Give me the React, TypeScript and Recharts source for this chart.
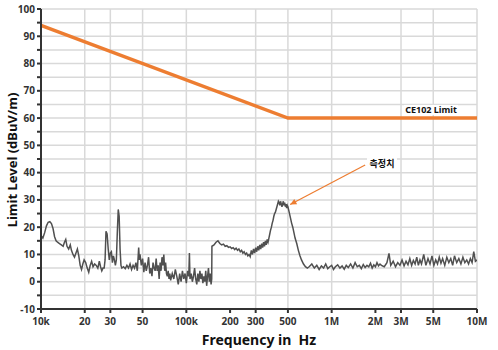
import { LineChart, Line, XAxis, YAxis, CartesianGrid, ReferenceLine, ReferenceDot } from 'recharts';

// x 값은 kHz 단위 (log scale)
const xTicks = [10, 20, 30, 50, 100, 200, 300, 500, 1000, 2000, 3000, 5000, 10000];
const xTickLabels = ['10k', '20', '30', '50', '100k', '200', '300', '500', '1M', '2M', '3M', '5M', '10M'];
const yTicks = [-10, -5, 0, 5, 10, 15, 20, 25, 30, 35, 40, 45, 50, 55, 60, 65, 70, 75, 80, 85, 90, 95, 100];

const limitFreqKHz = [10, 500, 10000];
const limitLevel = [94, 60, 60];

const measFreqKHz = [
  10, 10.3, 10.6, 10.9, 11.2, 11.5, 11.8, 12.1, 12.4, 12.7, 13.0, 13.4, 13.8, 14.2, 14.5, 14.8, 15.1, 15.5, 15.9, 16.2,
  16.6, 17.0, 17.4, 17.8, 18.2, 18.6, 19.0, 19.4, 19.8, 20.3, 20.8, 21.3, 21.8, 22.3, 22.8, 23.4, 24.0, 24.6, 25.2, 25.7,
  26.2, 26.7, 27.2, 27.6, 28.0, 28.5, 29.0, 29.5, 30.0, 30.5, 31.0, 31.5, 32.0, 32.5, 33.0, 33.5, 34.0, 34.5, 35.0, 35.5,
  36, 37, 38, 39, 40, 41, 42, 43, 44, 45, 46, 47, 47.5, 48, 49, 50, 51, 52, 53, 54,
  55, 56, 57, 58, 59, 60, 61, 62, 63, 64, 65, 66, 67, 68, 69, 70, 71, 72, 73, 74,
  75, 76, 77, 78, 80, 82, 84, 86, 88, 90, 92, 94, 96, 98, 100, 102, 104, 105, 106, 108,
  110, 112, 114, 116, 118, 120, 122, 124, 126, 128, 130, 132, 134, 136, 138, 140, 142, 144, 146, 148,
  149.5, 150, 155, 160, 165, 170, 175, 180, 185, 190, 195, 200, 205, 210, 215, 220, 225, 230, 235, 240,
  245, 250, 255, 260, 265, 270, 275, 280, 285, 290, 295, 300, 305, 310, 315, 320, 325, 330, 335, 340,
  345, 350, 355, 360, 365, 370, 375, 380, 385, 390, 395, 400, 405, 410, 415, 420, 425, 430, 435, 440,
  445, 450, 455, 460, 465, 470, 475, 480, 485, 490, 495, 500, 510, 520, 530, 540, 550, 560, 575, 590,
  605, 620, 640, 660, 680, 700, 730, 760, 790, 820, 850, 880, 910, 940, 970, 1000, 1030, 1060, 1100, 1140,
  1180, 1220, 1260, 1300, 1350, 1400, 1450, 1500, 1550, 1600, 1650, 1700, 1750, 1800, 1850, 1900, 1950, 2000, 2050, 2100,
  2150, 2200, 2300, 2400, 2480, 2550, 2650, 2750, 2850, 2950, 3050, 3150, 3250, 3350, 3450, 3550, 3650, 3750, 3850, 3950,
  4050, 4150, 4300, 4450, 4600, 4750, 4900, 5050, 5200, 5350, 5500, 5650, 5800, 6000, 6200, 6400, 6600, 6800, 7000, 7250,
  7500, 7750, 8000, 8250, 8500, 8750, 9000, 9250, 9500, 9750, 10000,
];

const measLevel = [
  17, 16, 18, 20.5, 21.8, 22, 21.3, 19.5, 16.5, 15, 14.5, 14, 13.5, 13, 14.5, 15.5, 13, 12, 13.5, 11.5,
  10, 9, 10.5, 12, 9.5, 6, 4.5, 6.5, 8, 7, 5, 3.5, 6, 7.5, 5.5, 6.5, 6, 5, 7.5, 5.5,
  4, 5, 5, 8, 18.5, 17.5, 12, 8, 10.5, 11, 7, 9.5, 8, 6, 8, 18, 26.5, 24, 12, 6,
  5, 5.5, 4.8, 6, 5, 6.5, 4.5, 6, 5, 7, 4, 12.5, 8, 10, 6, 8.5, 3.5, 7, 4, 6,
  9, 3, 5, 2, 7, 5, 4, 8.5, 4, 6, 1, 7, 4, 9, 6, 10, 4, 7, 3, 2,
  4, 1, 3, 0.5, 3, 1, 4.5, 2, -1, 3, 0, 4, 1, 3, -0.5, 4, 2, 10.5, 1, 3,
  0, 2, 5, 1, -1, 3, 0, 4, 1, 3, -0.5, 2, 0, 4, -1.5, 2, 5, 0, 3, -1,
  1, 13, 13.5, 14.5, 15, 14, 13.5, 13.8, 13, 13.2, 12.6, 12.8, 12.2, 12.5, 11.8, 12.3, 11.5, 12, 11, 11.5,
  10.5, 11, 10, 10.5, 9.5, 10, 9.2, 11.5, 10, 12, 10.5, 12.5, 11, 13, 11.5, 13.5, 12, 14, 12.5, 14.5,
  13, 15, 13.5, 15.5, 14.5, 16, 17.5, 19, 20, 21.5, 22.5, 24, 25, 25.5, 26.5, 27.5, 28.5, 29.5, 29, 28,
  29.5, 28.5, 27.5, 28.5, 29.5, 28, 29, 27.5, 28.5, 27, 28, 27.5, 25.5, 23.5, 21.5, 20, 18, 16, 14, 11.5,
  9.5, 8, 6.5, 5.5, 5, 5.5, 6.5, 5, 6, 4.5, 5.8, 5, 6.5, 4.8, 5.5, 6, 4.5, 5.5, 6.2, 5,
  5.8, 4.6, 6, 5.2, 6.5, 5, 7, 5.5, 6, 4.8, 6.3, 5.2, 6, 5.5, 6.8, 5, 6.2, 5.5, 7, 5.8,
  6.5, 6, 5.5, 7, 10.4, 6, 7.5, 5.5, 7, 6, 8, 5.8, 7.5, 6.2, 8.5, 6, 7.8, 6.5, 9, 6,
  8, 6.5, 10, 6, 8.5, 6.5, 9.5, 6, 8, 6.5, 9, 6.8, 8.5, 6, 9, 7, 8.5, 6, 9.5, 7,
  8.5, 6.5, 9, 7, 8, 6.5, 8.5, 7, 11, 7.5, 8,
];

const limitData = limitFreqKHz.map((f, i) => ({ f, v: limitLevel[i] }));
const measData = measFreqKHz.map((f, i) => ({ f, v: measLevel[i] }));

const ORANGE = '#ED7D31';
const FONT = '"Noto Sans", "Noto Sans CJK KR", sans-serif';

function LabelBox({ cx, cy, text, w }: any) {
  return (
    <g>
      <rect x={cx - w / 2} y={cy - 5} width={w} height={10} fill="#fff" />
      <text x={cx} y={cy} textAnchor="middle" dominantBaseline="central" fontSize={9} fontWeight="bold" fill="#111" fontFamily={FONT}>
        {text}
      </text>
    </g>
  );
}

function Arrow({ x1, y1, x2, y2 }: any) {
  const ang = Math.atan2(y2 - y1, x2 - x1);
  const len = 7;
  const spread = 0.45;
  const p1x = x2 - len * Math.cos(ang - spread);
  const p1y = y2 - len * Math.sin(ang - spread);
  const p2x = x2 - len * Math.cos(ang + spread);
  const p2y = y2 - len * Math.sin(ang + spread);
  return (
    <g>
      <line x1={x1} y1={y1} x2={x2} y2={y2} stroke={ORANGE} strokeWidth={1.2} />
      <polygon points={`${x2},${y2} ${p1x},${p1y} ${p2x},${p2y}`} fill={ORANGE} />
    </g>
  );
}

export default function App() {
  return (
    <div style={{ position: 'absolute', left: 0, top: 0, width: 498, height: 350, background: '#fff', fontFamily: FONT }}>
      <LineChart width={498} height={350} margin={{ top: 9, right: 21, bottom: 16, left: 0 }}>
        <CartesianGrid stroke="#d9d9d9" strokeWidth={1.5} />
        <XAxis
          type="number"
          dataKey="f"
          scale="log"
          domain={[10, 10000]}
          allowDataOverflow
          ticks={xTicks}
          tickFormatter={(v) => xTickLabels[xTicks.indexOf(v)] ?? ''}
          height={25}
          tickSize={4}
          tickMargin={5}
          stroke="#333"
          strokeWidth={2}
          tick={{ fontSize: 10, fill: '#333', fontWeight: 'bold', fontFamily: FONT }}
        />
        <YAxis
          type="number"
          domain={[-10, 100]}
          ticks={yTicks}
          interval={0}
          tickFormatter={(v) => (v % 10 === 0 ? String(v) : '')}
          width={41}
          tickSize={4}
          tickMargin={2}
          stroke="#333"
          strokeWidth={2}
          tick={{ fontSize: 10, fill: '#333', fontWeight: 'bold', fontFamily: FONT }}
        />
        <Line
          data={measData}
          dataKey="v"
          type="linear"
          stroke="#505050"
          strokeWidth={1.5}
          dot={false}
          isAnimationActive={false}
        />
        <Line
          data={limitData}
          dataKey="v"
          type="linear"
          stroke={ORANGE}
          strokeWidth={3.5}
          dot={false}
          isAnimationActive={false}
        />
        <ReferenceLine
          segment={[{ x: 1700, y: 42.8 }, { x: 518, y: 28.3 }]}
          shape={(p: any) => <Arrow {...p} />}
        />
        <ReferenceDot x={4830} y={63} r={0} shape={(p: any) => <LabelBox {...p} text="CE102  Limit" w={54} />} />
        <ReferenceDot x={2220} y={43.5} r={0} shape={(p: any) => <LabelBox {...p} text="측정치" w={30} />} />
      </LineChart>
      <div
        style={{
          position: 'absolute',
          left: 12 - 100,
          top: 160 - 10,
          width: 200,
          height: 20,
          lineHeight: '20px',
          textAlign: 'center',
          transform: 'rotate(-90deg)',
          fontSize: 13,
          fontWeight: 'bold',
          color: '#111',
        }}
      >
        Limit Level (dBuV/m)
      </div>
      <div
        style={{
          position: 'absolute',
          left: 159,
          top: 330,
          width: 200,
          height: 20,
          lineHeight: '20px',
          textAlign: 'center',
          fontSize: 14,
          fontWeight: 'bold',
          color: '#111',
          whiteSpace: 'pre',
        }}
      >
        Frequency in  Hz
      </div>
    </div>
  );
}
